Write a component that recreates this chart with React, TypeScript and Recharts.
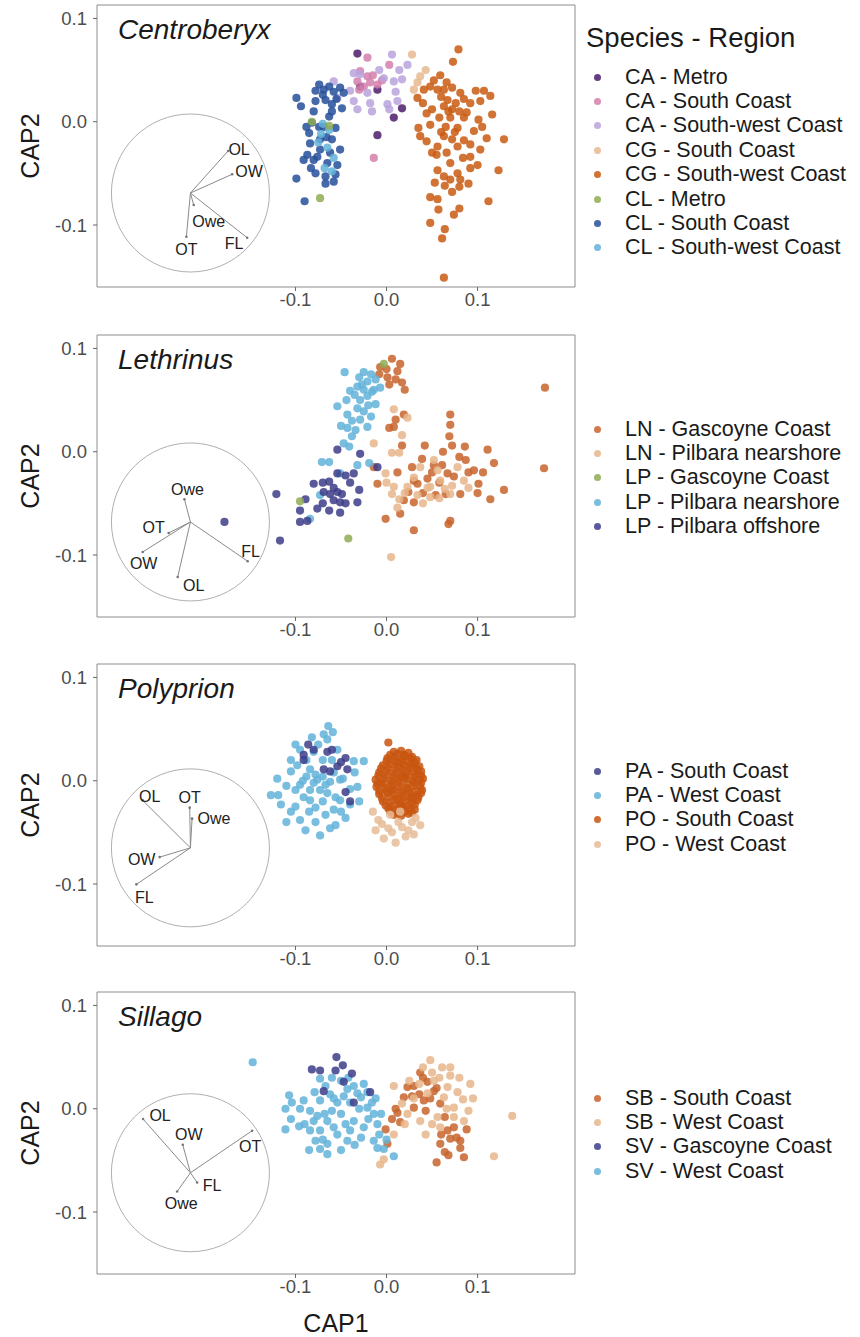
import {
  ScatterChart,
  Scatter,
  XAxis,
  YAxis,
  ReferenceArea,
  ReferenceDot,
  ReferenceLine,
} from 'recharts';

// axes shared by all four panels
const xDomain = [-0.318, 0.207];
const yDomain = [-0.16, 0.113];
const axisTicks = [-0.1, 0, 0.1];

// ---------- Centroberyx ----------
const caMetro = [[-0.032, 0.066], [-0.010, 0.031], [-0.029, 0.034], [0.017, 0.013], [0.008, 0.004], [-0.010, -0.013]];
const caSouth = [[-0.021, 0.062], [0.003, 0.055], [-0.029, 0.049], [-0.021, 0.044], [-0.032, 0.039], [-0.018, 0.038], [-0.025, 0.034], [-0.010, 0.036], [-0.030, 0.031], [-0.014, -0.035], [-0.015, 0.045], [-0.005, 0.040]];
const caSouthWest = [[0.006, 0.065], [0.023, 0.055], [-0.036, 0.047], [-0.029, 0.046], [-0.058, 0.039], [-0.003, 0.042], [0.008, 0.039], [0.017, 0.041], [0.010, 0.029], [-0.021, 0.028], [-0.036, 0.020], [-0.018, 0.018], [0.001, 0.017], [-0.032, 0.012], [-0.016, 0.010], [0.003, 0.012], [0.012, 0.020], [-0.054, 0.023], [-0.008, 0.050], [0.014, 0.050], [-0.040, 0.030]];
const cgSouth = [[0.028, 0.065], [0.043, 0.050], [0.034, 0.038], [0.030, 0.031], [0.037, 0.044]];
const cgSouthWest = [
  [0.079, 0.070], [0.073, 0.058], [0.059, 0.045], [0.048, 0.034], [0.041, 0.031], [0.056, 0.031], [0.034, 0.023], [0.063, 0.031],
  [0.072, 0.033], [0.081, 0.028], [0.067, 0.021], [0.076, 0.018], [0.063, 0.015], [0.072, 0.012], [0.080, 0.010], [0.050, 0.012],
  [0.092, 0.018], [0.103, 0.020], [0.107, 0.030], [0.114, 0.025], [0.116, 0.007], [0.058, 0.004], [0.070, 0.004], [0.048, -0.003],
  [0.065, -0.005], [0.078, -0.006], [0.101, 0.002], [0.035, -0.006], [0.037, -0.014], [0.044, -0.019], [0.063, -0.014], [0.072, -0.017],
  [0.056, -0.024], [0.055, -0.032], [0.078, -0.024], [0.092, -0.022], [0.103, -0.027], [0.110, -0.016], [0.129, -0.017], [0.070, -0.040],
  [0.092, -0.034], [0.100, -0.042], [0.056, -0.047], [0.078, -0.050], [0.092, -0.045], [0.123, -0.047], [0.063, -0.053], [0.070, -0.056],
  [0.081, -0.056], [0.053, -0.059], [0.080, -0.063], [0.048, -0.073], [0.056, -0.075], [0.080, -0.084], [0.112, -0.077], [0.074, -0.090],
  [0.048, -0.098], [0.064, -0.104], [0.061, -0.113], [0.063, -0.151], [0.085, 0.004], [0.096, -0.009],
  [0.052, 0.040], [0.066, 0.038], [0.085, 0.022], [0.060, 0.024], [0.068, 0.010], [0.088, 0.009], [0.044, 0.008], [0.075, -0.010],
  [0.085, -0.018], [0.060, -0.010], [0.050, -0.030], [0.066, -0.030], [0.084, -0.035], [0.064, -0.062], [0.072, -0.068], [0.090, -0.060],
  [0.057, -0.085], [0.105, -0.005], [0.040, 0.018], [0.098, 0.030],
];
const clMetro = [[-0.082, 0.000], [-0.063, -0.004], [-0.073, -0.074]];
const clSouth = [
  [-0.099, 0.023], [-0.094, 0.015], [-0.074, 0.036], [-0.069, 0.031], [-0.063, 0.034], [-0.058, 0.029], [-0.051, 0.033], [-0.047, 0.028],
  [-0.067, 0.021], [-0.060, 0.017], [-0.049, 0.013], [-0.080, 0.010], [-0.063, 0.005], [-0.082, -0.001], [-0.069, -0.005], [-0.056, -0.006],
  [-0.085, -0.011], [-0.084, -0.021], [-0.073, -0.017], [-0.060, -0.017], [-0.051, -0.027], [-0.087, -0.032], [-0.076, -0.034], [-0.065, -0.040],
  [-0.054, -0.042], [-0.078, -0.050], [-0.067, -0.053], [-0.056, -0.051], [-0.099, -0.055], [-0.067, -0.060], [-0.090, -0.077], [-0.073, -0.027],
  [-0.080, -0.037], [-0.091, -0.037], [-0.070, 0.026], [-0.055, 0.022], [-0.088, -0.005], [-0.062, -0.030],
  [-0.078, 0.030], [-0.060, 0.010], [-0.074, -0.005], [-0.066, -0.015], [-0.083, -0.045], [-0.058, -0.058], [-0.078, 0.020],
];
const clSouthWest = [[-0.070, -0.002], [-0.063, -0.008], [-0.075, -0.020], [-0.065, -0.025], [-0.058, -0.035], [-0.068, -0.045], [-0.060, -0.048], [-0.072, -0.012]];

// ---------- Lethrinus ----------
const lnGascoyne = [
  [0.006, 0.090], [0.015, 0.085], [-0.007, 0.082], [-0.008, 0.075], [0.001, 0.072], [0.010, 0.070], [0.017, 0.067], [0.003, 0.065],
  [0.174, 0.062], [0.019, 0.036], [0.010, 0.031], [0.003, 0.023], [0.008, 0.024], [0.017, 0.006], [0.042, 0.006], [0.070, 0.036],
  [0.070, 0.026], [0.069, 0.015], [0.072, 0.006], [0.086, 0.005], [0.111, 0.002], [0.039, -0.007], [0.052, -0.013], [0.061, -0.013],
  [0.087, -0.008], [0.096, -0.018], [0.106, -0.020], [0.118, -0.011], [0.173, -0.016], [-0.014, -0.015], [-0.010, -0.031], [0.030, -0.028],
  [0.024, -0.039], [0.034, -0.031], [0.045, -0.026], [0.067, -0.021], [0.074, -0.024], [0.101, -0.031], [0.065, -0.041], [0.081, -0.041],
  [0.019, -0.047], [0.030, -0.049], [0.054, -0.042], [0.114, -0.046], [0.129, -0.037], [-0.001, -0.065], [0.015, -0.060], [0.030, -0.076],
  [0.070, -0.067], [0.068, -0.070],
  [0.000, 0.080], [0.012, 0.078], [0.020, 0.060], [0.050, -0.020], [0.058, -0.030], [0.090, -0.020], [0.080, -0.005], [0.028, -0.015],
  [0.040, -0.040], [0.012, -0.020], [0.062, 0.000], [0.100, -0.040],
];
const lnPilbara = [
  [0.008, 0.041], [0.023, 0.033], [0.017, 0.016], [-0.014, 0.008], [0.006, -0.001], [0.014, -0.001], [-0.001, -0.021], [0.008, -0.034],
  [0.023, -0.034], [0.006, -0.041], [0.014, -0.046], [0.037, -0.015], [0.048, -0.034], [0.048, -0.044], [0.059, -0.028], [0.072, -0.033],
  [0.034, -0.042], [0.085, -0.028], [0.056, -0.018], [0.070, -0.041], [0.012, -0.054], [0.005, -0.102], [0.078, -0.015], [0.052, -0.008],
  [0.030, -0.025], [0.045, -0.035], [0.064, -0.036], [0.020, -0.040], [0.000, -0.030], [0.040, -0.050], [0.090, -0.035], [0.058, -0.045],
];
const lpGascoyne = [[-0.095, -0.048], [-0.042, -0.084], [-0.003, 0.085]];
const lpPilbaraNear = [
  [-0.046, 0.077], [-0.025, 0.077], [-0.017, 0.075], [-0.030, 0.072], [-0.021, 0.068], [-0.012, 0.070], [-0.032, 0.063], [-0.040, 0.059],
  [-0.025, 0.060], [-0.014, 0.060], [-0.007, 0.062], [-0.021, 0.054], [-0.029, 0.050], [-0.054, 0.044], [-0.032, 0.042], [-0.012, 0.046],
  [-0.025, 0.039], [-0.043, 0.036], [-0.017, 0.034], [-0.029, 0.031], [-0.043, 0.023], [-0.034, 0.021], [-0.021, 0.024], [-0.038, 0.015],
  [-0.047, 0.008], [-0.041, 0.005], [-0.071, -0.010], [-0.063, -0.010], [-0.032, -0.013], [-0.019, -0.011], [-0.073, -0.042], [-0.084, -0.065],
  [-0.051, -0.021], [-0.035, 0.055], [-0.020, 0.045], [-0.038, 0.030], [-0.027, 0.065], [-0.050, 0.025], [-0.016, 0.058], [-0.044, 0.050],
];
const lpPilbaraOff = [
  [-0.054, 0.002], [-0.029, -0.002], [-0.054, -0.021], [-0.045, -0.023], [-0.036, -0.021], [-0.080, -0.031], [-0.063, -0.029], [-0.069, -0.039],
  [-0.062, -0.041], [-0.054, -0.039], [-0.049, -0.041], [-0.058, -0.047], [-0.051, -0.049], [-0.030, -0.037], [-0.032, -0.049], [-0.089, -0.046],
  [-0.095, -0.057], [-0.076, -0.055], [-0.063, -0.057], [-0.051, -0.059], [-0.095, -0.068], [-0.087, -0.067], [-0.121, -0.041], [-0.117, -0.086],
  [-0.010, -0.015], [-0.178, -0.068], [-0.070, -0.030], [-0.058, -0.035], [-0.045, -0.050], [-0.070, -0.050], [-0.040, -0.030],
];

// ---------- Polyprion ----------
const paSouth = [[-0.086, 0.035], [-0.091, 0.025], [-0.091, 0.020], [-0.065, 0.028], [-0.045, 0.022], [-0.069, 0.011], [-0.062, 0.009], [-0.054, 0.014], [-0.043, 0.011], [-0.045, -0.011], [-0.080, 0.030], [-0.060, 0.030], [-0.050, 0.018], [-0.040, -0.020]];
const paWest = [
  [-0.064, 0.053], [-0.069, 0.045], [-0.059, 0.047], [-0.100, 0.035], [-0.075, 0.035], [-0.095, 0.030], [-0.080, 0.028], [-0.054, 0.030],
  [-0.025, 0.019], [-0.036, 0.019], [-0.105, 0.009], [-0.084, 0.011], [-0.076, 0.001], [-0.051, 0.001], [-0.032, -0.006], [-0.119, -0.014],
  [-0.091, -0.016], [-0.065, -0.012], [-0.105, -0.030], [-0.095, -0.038], [-0.078, -0.026], [-0.067, -0.033], [-0.056, -0.043], [-0.045, -0.036],
  [-0.089, -0.048], [-0.073, -0.053], [-0.040, -0.023], [-0.051, -0.019], [-0.116, -0.023], [-0.084, -0.019], [-0.127, -0.014], [-0.095, -0.004],
  [-0.084, -0.009], [-0.073, -0.009], [-0.062, -0.001], [-0.078, 0.006], [-0.067, -0.004], [-0.100, -0.009], [-0.056, -0.016], [-0.088, 0.004],
  [-0.110, -0.005], [-0.105, 0.020], [-0.098, 0.015], [-0.088, 0.020], [-0.070, 0.020], [-0.060, 0.020], [-0.048, 0.002], [-0.040, -0.008],
  [-0.035, 0.008], [-0.058, -0.028], [-0.070, -0.020], [-0.085, -0.030], [-0.100, -0.025], [-0.078, -0.040], [-0.062, -0.046], [-0.050, -0.030],
  [-0.092, 0.000], [-0.080, -0.002], [-0.070, 0.004], [-0.058, 0.008], [-0.110, -0.040], [-0.065, 0.040], [-0.082, 0.042], [-0.030, -0.020],
  [-0.120, 0.002],
];
const poSouth = [
  [0.002, 0.037], [0.008, 0.028], [0.016, 0.029], [0.024, 0.027], [0.001, 0.022], [0.009, 0.023], [0.017, 0.021], [0.026, 0.022],
  [0.033, 0.020], [-0.004, 0.015], [0.004, 0.016], [0.012, 0.014], [0.020, 0.015], [0.028, 0.016], [0.036, 0.014], [-0.008, 0.008],
  [0.000, 0.009], [0.008, 0.007], [0.016, 0.008], [0.024, 0.009], [0.032, 0.007], [0.038, 0.009], [-0.012, 0.001], [-0.003, 0.002],
  [0.005, 0.000], [0.013, 0.001], [0.021, 0.002], [0.029, 0.000], [0.036, 0.001], [0.040, 0.002], [-0.011, -0.006], [-0.002, -0.007],
  [0.006, -0.005], [0.014, -0.006], [0.022, -0.007], [0.030, -0.005], [0.037, -0.006], [-0.008, -0.013], [0.001, -0.012], [0.009, -0.014],
  [0.017, -0.013], [0.025, -0.012], [0.033, -0.014], [0.038, -0.012], [-0.004, -0.020], [0.004, -0.021], [0.012, -0.019], [0.020, -0.020],
  [0.028, -0.021], [0.034, -0.019], [0.002, -0.027], [0.010, -0.028], [0.018, -0.026], [0.026, -0.027], [0.031, -0.028], [0.008, -0.033],
  [0.016, -0.034], [0.024, -0.032], [0.012, 0.018], [0.020, 0.004], [0.006, -0.009], [0.027, -0.016], [0.015, -0.023], [-0.006, -0.002],
  [0.033, 0.012], [0.019, 0.025],
  [0.004, 0.025], [0.012, 0.026], [0.020, 0.024], [0.028, 0.023], [0.000, 0.019], [0.008, 0.019], [0.016, 0.018], [0.024, 0.018],
  [0.031, 0.018], [-0.006, 0.012], [0.002, 0.012], [0.010, 0.011], [0.018, 0.011], [0.026, 0.012], [0.034, 0.010], [-0.009, 0.005],
  [-0.001, 0.005], [0.007, 0.004], [0.015, 0.004], [0.023, 0.005], [0.031, 0.004], [0.038, 0.005], [-0.010, -0.003], [-0.002, -0.003],
  [0.006, -0.002], [0.014, -0.002], [0.022, -0.003], [0.030, -0.002], [0.038, -0.002], [-0.008, -0.010], [0.000, -0.010], [0.008, -0.009],
  [0.016, -0.010], [0.024, -0.009], [0.032, -0.010], [0.039, -0.009], [-0.005, -0.017], [0.003, -0.016], [0.011, -0.017], [0.019, -0.016],
  [0.027, -0.017], [0.035, -0.016], [-0.001, -0.024], [0.007, -0.024], [0.015, -0.023], [0.023, -0.024], [0.031, -0.023], [0.004, -0.030],
  [0.012, -0.031], [0.020, -0.030], [0.028, -0.031],
];
const poWest = [[-0.009, -0.038], [0.002, -0.046], [0.013, -0.040], [0.024, -0.048], [0.032, -0.036], [-0.003, -0.056], [0.010, -0.060], [0.021, -0.054], [-0.012, -0.048], [0.037, -0.043], [0.004, -0.033], [-0.015, -0.030], [0.015, -0.030], [0.028, -0.040], [0.006, -0.050], [0.017, -0.045], [-0.005, -0.042], [0.030, -0.052]];

// ---------- Sillago ----------
const sbSouth = [
  [0.037, 0.035], [0.030, 0.022], [0.045, 0.026], [0.019, 0.011], [0.036, 0.014], [0.052, 0.017], [0.030, 0.001], [0.043, -0.002],
  [0.059, 0.005], [0.006, -0.010], [-0.001, -0.020], [0.015, -0.013], [0.001, -0.034], [0.067, -0.021], [0.074, -0.018], [0.088, -0.020],
  [0.081, -0.031], [0.070, -0.029], [0.059, -0.034], [0.081, -0.038], [0.055, -0.052], [0.064, -0.042], [0.085, -0.047], [0.041, 0.008],
  [0.023, 0.021], [0.048, 0.010], [0.055, 0.020], [0.028, 0.012], [0.012, -0.004], [0.064, -0.008], [0.077, -0.028], [0.068, -0.045],
  [0.060, -0.025], [0.040, 0.030], [0.010, 0.000],
];
const sbWest = [
  [0.048, 0.047], [0.061, 0.040], [0.070, 0.032], [0.092, 0.024], [0.008, 0.022], [0.025, 0.027], [0.052, 0.027], [0.067, 0.021],
  [0.078, 0.016], [0.084, 0.009], [0.074, 0.001], [0.090, -0.002], [0.056, -0.008], [0.037, -0.012], [0.023, -0.005], [0.138, -0.007],
  [0.118, -0.046], [-0.007, -0.054], [-0.003, -0.049], [0.043, -0.025], [0.008, -0.025], [0.059, -0.018], [0.074, -0.008], [0.036, 0.024],
  [0.063, 0.011], [0.017, 0.005], [0.050, 0.035], [0.058, 0.030], [0.045, 0.015], [0.080, 0.030], [0.066, 0.000], [0.030, 0.010],
  [0.050, -0.015], [0.085, -0.012], [0.070, 0.040], [0.040, 0.040], [0.020, -0.015], [0.095, 0.010],
];
const svGascoyne = [[-0.082, 0.038], [-0.073, 0.037], [-0.055, 0.050], [-0.056, 0.037], [-0.048, 0.042], [-0.038, 0.034], [-0.069, 0.017], [-0.018, 0.016], [-0.036, 0.006], [-0.047, 0.026]];
const svWest = [
  [-0.147, 0.045], [-0.107, 0.013], [-0.104, 0.006], [-0.111, 0.000], [-0.105, -0.010], [-0.096, -0.017], [-0.111, -0.020], [-0.084, -0.021],
  [-0.073, 0.029], [-0.079, 0.016], [-0.073, 0.008], [-0.062, 0.014], [-0.050, 0.027], [-0.043, 0.019], [-0.036, 0.022], [-0.025, 0.024],
  [-0.054, 0.006], [-0.040, 0.006], [-0.028, 0.011], [-0.021, 0.001], [-0.014, -0.005], [-0.010, -0.015], [-0.076, -0.007], [-0.065, -0.012],
  [-0.050, -0.005], [-0.036, -0.012], [-0.025, -0.018], [-0.073, -0.021], [-0.054, -0.025], [-0.040, -0.021], [-0.078, -0.031], [-0.065, -0.034],
  [-0.043, -0.031], [-0.028, -0.028], [-0.073, -0.039], [-0.065, -0.044], [-0.014, -0.031], [-0.010, -0.038], [-0.003, -0.039], [0.008, -0.046],
  [-0.084, -0.002], [-0.091, 0.008], [-0.060, -0.002], [-0.021, 0.016], [-0.016, 0.006],
  [-0.090, -0.015], [-0.080, -0.012], [-0.068, -0.005], [-0.058, 0.010], [-0.047, 0.012], [-0.032, 0.015], [-0.030, 0.000], [-0.045, -0.015],
  [-0.058, -0.018], [-0.070, -0.030], [-0.050, -0.040], [-0.035, -0.035], [-0.020, -0.010], [-0.008, -0.025], [-0.085, -0.040], [-0.060, 0.030],
  [-0.095, 0.000], [-0.067, 0.022], [-0.042, 0.030], [-0.012, 0.010], [-0.006, -0.005], [0.000, -0.030],
];

// vector loadings (unit circle) in order OL, OW, Owe, OT, FL
const vectorNames = ['OL', 'OW', 'Owe', 'OT', 'FL'];
const centroLoad = [[0.477, 0.532], [0.528, 0.237], [0.042, -0.152], [-0.051, -0.553], [0.718, -0.566]];
const lethLoad = [[-0.161, -0.696], [-0.604, -0.380], [-0.076, 0.287], [-0.275, -0.139], [0.725, -0.497]];
const polyLoad = [[-0.604, 0.601], [-0.389, -0.117], [0.021, 0.370], [-0.009, 0.509], [-0.684, -0.462]];
const sillLoad = [[-0.599, 0.680], [-0.097, 0.354], [-0.168, -0.237], [0.781, 0.532], [0.085, -0.123]];

// label nudges for the vector names, px
const centroNudge = [[11, -1], [17, -3], [15, 16], [0, 13], [-13, 6]];
const lethNudge = [[16, 9], [1, 12], [3, -10], [-15, -5], [3, -10]];
const polyNudge = [[7, -4], [-18, 2], [22, 0], [0, -10], [8, 13]];
const sillNudge = [[17, -4], [6, -10], [4, 12], [-2, 16], [15, 3]];

const PLOT_W = 478;
const PLOT_H = 282;
const INSET_R = 79;
const pxPerX = PLOT_W / (xDomain[1] - xDomain[0]);
const pxPerY = PLOT_H / (yDomain[1] - yDomain[0]);

const panels = [
  {
    title: 'Centroberyx',
    top: 5,
    insetX: -0.2154,
    insetY: -0.069,
    loads: centroLoad,
    nudges: centroNudge,
    legendTitle: 'Species - Region',
    legendFirst: 77,
    groups: [
      { name: 'CA - Metro', color: '#4b1c6b', data: caMetro },
      { name: 'CA - South Coast', color: '#d47fad', data: caSouth },
      { name: 'CA - South-west Coast', color: '#b9a3dc', data: caSouthWest },
      { name: 'CG - South Coast', color: '#e6b88f', data: cgSouth },
      { name: 'CG - South-west Coast', color: '#c95a12', data: cgSouthWest },
      { name: 'CL - Metro', color: '#8fab52', data: clMetro },
      { name: 'CL - South Coast', color: '#26509a', data: clSouth },
      { name: 'CL - South-west Coast', color: '#63b3d9', data: clSouthWest },
    ],
  },
  {
    title: 'Lethrinus',
    top: 335,
    insetX: -0.2154,
    insetY: -0.068,
    loads: lethLoad,
    nudges: lethNudge,
    legendFirst: 429,
    groups: [
      { name: 'LN - Gascoyne Coast', color: '#c8642c', data: lnGascoyne },
      { name: 'LN - Pilbara nearshore', color: '#e8b68c', data: lnPilbara },
      { name: 'LP - Gascoyne Coast', color: '#8fab52', data: lpGascoyne },
      { name: 'LP - Pilbara nearshore', color: '#63b3d9', data: lpPilbaraNear },
      { name: 'LP - Pilbara offshore', color: '#3d3d8a', data: lpPilbaraOff },
    ],
  },
  {
    title: 'Polyprion',
    top: 664,
    insetX: -0.2154,
    insetY: -0.065,
    loads: polyLoad,
    nudges: polyNudge,
    legendFirst: 771,
    groups: [
      { name: 'PA - South Coast', color: '#3d3d8a', data: paSouth },
      { name: 'PA - West Coast', color: '#63b3d9', data: paWest },
      { name: 'PO - South Coast', color: '#c8560f', data: poSouth },
      { name: 'PO - West Coast', color: '#e6bc98', data: poWest },
    ],
  },
  {
    title: 'Sillago',
    top: 992,
    insetX: -0.2154,
    insetY: -0.062,
    loads: sillLoad,
    nudges: sillNudge,
    legendFirst: 1098,
    groups: [
      { name: 'SB - South Coast', color: '#c8642c', data: sbSouth },
      { name: 'SB - West Coast', color: '#e8b68c', data: sbWest },
      { name: 'SV - Gascoyne Coast', color: '#3d3d8a', data: svGascoyne },
      { name: 'SV - West Coast', color: '#63b3d9', data: svWest },
    ],
  },
];

// draw order inside the plot (legend order stays as listed)
const drawOrder = [
  [0, 1, 2, 3, 4, 6, 7, 5],
  [0, 1, 3, 4, 2],
  [1, 0, 2, 3],
  [0, 1, 3, 2],
];

const fmt = (v: number) => v.toFixed(1);
const toPts = (rows: number[][]) => rows.map(([x, y]) => ({ x, y }));

function Panel({ p, idx, last }: any) {
  const axisH = last ? 62 : 30;
  const chartH = 5 + PLOT_H + axisH;
  const rX = INSET_R / pxPerX;
  const rY = INSET_R / pxPerY;
  const labelY = 5 + PLOT_H / 2;

  return (
    <>
      <div style={{ position: 'absolute', left: 0, top: p.top - 5 }}>
        <ScatterChart
          width={580}
          height={chartH}
          margin={{ top: 5, right: 5, bottom: 0, left: 0 }}>
          <XAxis
            type='number'
            dataKey='x'
            domain={xDomain}
            allowDataOverflow
            ticks={axisTicks}
            tickFormatter={fmt}
            axisLine={false}
            tickSize={4}
            tickMargin={2}
            tickLine={{ stroke: '#666' }}
            tick={{ fontSize: 18.5, fill: '#4d4d4d' }}
            height={axisH}
            label={
              last
                ? { value: 'CAP1', position: 'insideBottom', offset: 4, fontSize: 25, fill: '#1a1a1a' }
                : undefined
            }
          />
          <YAxis
            type='number'
            dataKey='y'
            domain={yDomain}
            allowDataOverflow
            ticks={axisTicks}
            tickFormatter={fmt}
            axisLine={false}
            tickSize={4}
            tickMargin={6}
            tickLine={{ stroke: '#666' }}
            tick={{ fontSize: 18.5, fill: '#4d4d4d' }}
            width={97}
            label={() => (
              <text
                x={30}
                y={labelY}
                transform={`rotate(-90 30 ${labelY})`}
                textAnchor='middle'
                dominantBaseline='central'
                fontSize={25}
                fill='#1a1a1a'>
                CAP2
              </text>
            )}
          />
          <ReferenceArea
            x1={xDomain[0]}
            x2={xDomain[1]}
            y1={yDomain[0]}
            y2={yDomain[1]}
            fill='none'
            stroke='#8c8c8c'
            strokeWidth={1}
            ifOverflow='visible'
          />
          <ReferenceDot
            x={p.insetX}
            y={p.insetY}
            r={INSET_R}
            fill='none'
            stroke='#a6a6a6'
            strokeWidth={0.9}
            ifOverflow='visible'
          />
          {p.loads.map((l: number[], i: number) => (
            <ReferenceLine
              key={'v' + i}
              segment={[
                { x: p.insetX, y: p.insetY },
                { x: p.insetX + l[0] * rX, y: p.insetY + l[1] * rY },
              ]}
              stroke='#8a8a8a'
              strokeWidth={1}
              ifOverflow='visible'
            />
          ))}
          {p.loads.map((l: number[], i: number) => (
            <ReferenceDot
              key={'t' + i}
              x={p.insetX + l[0] * rX}
              y={p.insetY + l[1] * rY}
              r={1.3}
              ifOverflow='visible'
              shape={(s: any) => (
                <g>
                  <circle cx={s.cx} cy={s.cy} r={1.3} fill='#777' />
                  <text
                    x={s.cx + p.nudges[i][0]}
                    y={s.cy + p.nudges[i][1]}
                    textAnchor='middle'
                    dominantBaseline='central'
                    fontSize={16}
                    fill='#222'>
                    {vectorNames[i]}
                  </text>
                </g>
              )}
            />
          ))}
          {drawOrder[idx].map((gi: number) => {
            const g = p.groups[gi];
            return (
              <Scatter
                key={g.name}
                name={g.name}
                data={toPts(g.data)}
                fill={g.color}
                isAnimationActive={false}
                shape={(s: any) => (
                  <circle cx={s.cx} cy={s.cy} r={4.1} fill={g.color} fillOpacity={0.85} />
                )}
              />
            );
          })}
        </ScatterChart>
      </div>
      <div
        style={{
          position: 'absolute',
          left: 118,
          top: p.top + 11,
          fontSize: 28,
          lineHeight: '28px',
          fontStyle: 'italic',
          color: '#1a1a1a',
        }}>
        {p.title}
      </div>
      {p.legendTitle && (
        <div
          style={{
            position: 'absolute',
            left: 586,
            top: 24,
            fontSize: 27.5,
            lineHeight: '28px',
            color: '#1a1a1a',
          }}>
          {p.legendTitle}
        </div>
      )}
      <div style={{ position: 'absolute', left: 590, top: p.legendFirst - 12 }}>
        {p.groups.map((g: any) => (
          <div
            key={g.name}
            style={{ display: 'flex', alignItems: 'center', height: 24.4 }}>
            <span
              style={{
                display: 'inline-block',
                width: 7,
                height: 7,
                borderRadius: '50%',
                background: g.color,
                opacity: 0.85,
                marginLeft: 4,
                marginRight: 24,
              }}
            />
            <span style={{ fontSize: 21.5, color: '#1a1a1a', whiteSpace: 'nowrap' }}>{g.name}</span>
          </div>
        ))}
      </div>
    </>
  );
}

export default function App() {
  return (
    <div
      style={{
        position: 'absolute',
        left: 0,
        top: 0,
        width: 860,
        height: 1337,
        background: '#fff',
        fontFamily: '"Liberation Sans", Arial, sans-serif',
      }}>
      {panels.map((p, i) => (
        <Panel key={p.title} p={p} idx={i} last={i === panels.length - 1} />
      ))}
    </div>
  );
}
